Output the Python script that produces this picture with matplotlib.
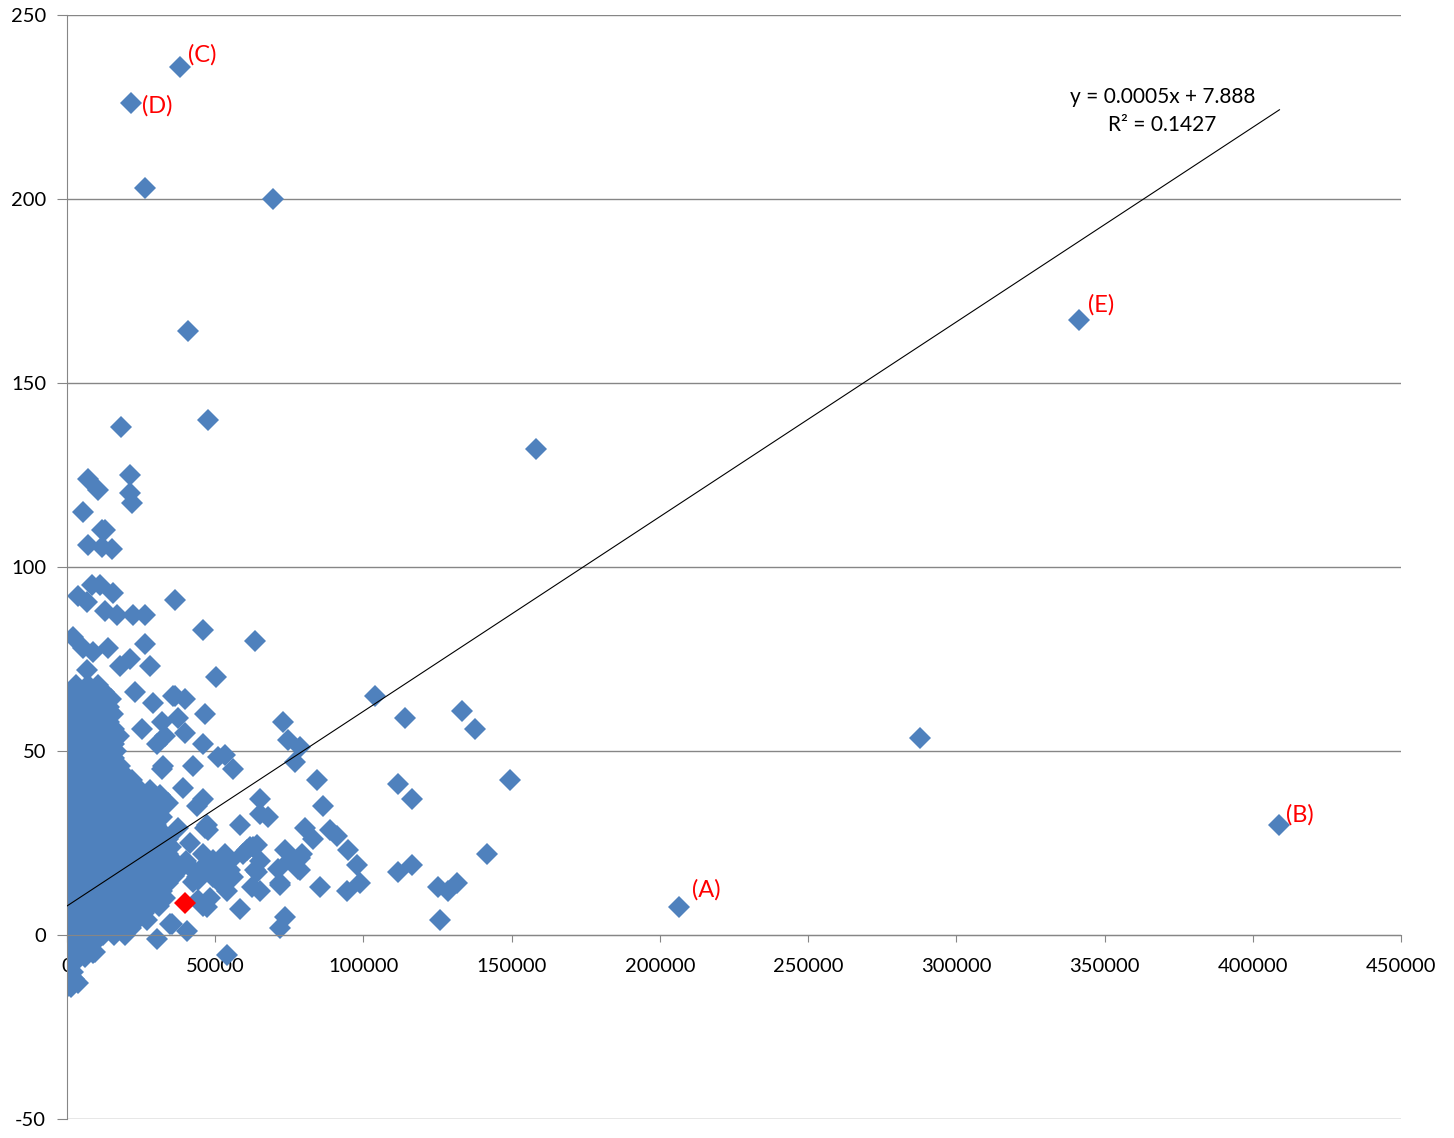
import matplotlib.pyplot as plt

plt.rcParams["font.family"] = ["Lato", "DejaVu Sans"]
plt.rcParams["axes.unicode_minus"] = False

# dense core of the cloud near the origin, read row by row: (y, x values)
core_rows = [
    (-14, [0, 1500]),
    (-12, [0, 2500]),
    (-10, [0, 2000]),
    (-8, [0, 2000]),
    (-6, [0, 3000, 6000]),
    (-4, [0, 4000, 8000]),
    (-2, [0, 2000, 6000, 9500]),
    (0, [0, 4000, 8000, 12000, 16000, 19500]),
    (2, [0, 2000, 6000, 10000, 14000, 18000, 21500]),
    (4, [0, 4000, 8000, 12000, 16000, 20000, 23500]),
    (6, [0, 2000, 6000, 10000, 14000, 18000, 22000, 26000]),
    (8, [0, 4000, 8000, 12000, 16000, 20000, 24000, 28000, 31000]),
    (10, [0, 2000, 6000, 10000, 14000, 18000, 22000, 26000, 30000, 33000]),
    (12, [0, 4000, 8000, 12000, 16000, 20000, 24000, 28000, 32000]),
    (14, [0, 2000, 6000, 10000, 14000, 18000, 22000, 26000, 30000, 34000]),
    (16, [0, 4000, 8000, 12000, 16000, 20000, 24000, 28000, 32000, 36000]),
    (18, [0, 2000, 6000, 10000, 14000, 18000, 22000, 26000, 30000, 34000, 38000]),
    (20, [0, 4000, 8000, 12000, 16000, 20000, 24000, 28000, 32000, 36000, 40000]),
    (22, [0, 2000, 6000, 10000, 14000, 18000, 22000, 26000, 30000, 34000]),
    (24, [0, 4000, 8000, 12000, 16000, 20000, 24000, 28000, 32000, 35000]),
    (26, [0, 2000, 6000, 10000, 14000, 18000, 22000, 26000, 30000, 34000]),
    (28, [0, 4000, 8000, 12000, 16000, 20000, 24000, 28000, 32000]),
    (30, [0, 2000, 6000, 10000, 14000, 18000, 22000, 26000, 30000]),
    (32, [0, 4000, 8000, 12000, 16000, 20000, 24000, 28000, 32000]),
    (34, [0, 2000, 6000, 10000, 14000, 18000, 22000, 26000, 30000]),
    (36, [0, 4000, 8000, 12000, 16000, 20000, 24000, 28000]),
    (38, [0, 2000, 6000, 10000, 14000, 18000, 22000, 26000]),
    (40, [0, 4000, 8000, 12000, 16000, 20000, 24000]),
    (42, [0, 2000, 6000, 10000, 14000, 18000, 22000]),
    (44, [0, 4000, 8000, 12000, 16000, 19000]),
    (46, [0, 2000, 6000, 10000, 14000, 18000]),
    (48, [0, 4000, 8000, 12000, 16000]),
    (50, [0, 2000, 6000, 10000, 14000, 16500]),
    (52, [0, 4000, 8000, 12000, 16000]),
    (54, [0, 2000, 6000, 10000, 14000, 17500]),
    (56, [0, 4000, 8000, 12000, 16000]),
    (58, [0, 2000, 6000, 10000, 14000]),
    (60, [0, 4000, 8000, 12000, 15500]),
    (62, [0, 2000, 6000, 10000, 14000]),
    (64, [0, 4000, 8000, 12000, 15000]),
    (66, [1500, 5000, 9000, 12500]),
    (68, [3000, 7000, 10500]),
]

# scattered points outside the core
pts_x = [
    38000, 21600, 26300, 69500, 40800, 47600, 18200, 7100, 10500, 21300,
    21300, 21900, 5400, 11800, 12800, 7100, 11800, 15200, 8400, 11100,
    3700, 6700, 15500, 36400, 12800, 16900, 22300, 26300, 45900, 63400,
    2000, 5400, 8800, 13800, 26300, 21300, 28000, 17900, 6700, 50300,
    104000, 114000, 133300, 137700, 149500, 111700, 116400, 141700, 125200, 128500,
    131600, 125900, 111700, 116400, 94800, 97800, 98900, 94500, 85400, 84300,
    86400, 80300, 83000, 88700, 91100, 79300, 73600, 76300, 77900, 71200,
    71900, 73600, 71900, 72900, 74600, 78600, 76900, 65100, 65100, 67800,
    58400, 46600, 45900, 50900, 53300, 56000, 42500, 39800, 37500, 39800,
    35800, 32000, 29000, 33100, 32000, 39100, 45900, 43900, 47200, 47600,
    37500, 61700, 64100, 59400, 53300, 55000, 50600, 45900, 65100, 64100,
    62400, 65100, 58400, 54000, 53300, 48200, 44200, 42500, 40500, 34800,
    30400, 54000, 60600, 62800, 63400, 52300, 49300, 47200, 45900, 49300,
    55000, 56000, 51600, 75200, 78600, 78600, 71900, 46600, 22900, 36400,
    25300, 30400, 32400, 28000, 31400, 34100, 41500, 41500, 44200, 35400,
    27000, 8800, 3700, 45900, 48200, 52600, 43900, 37100, 47200, 9400,
    158200, 287800, 206500, 409000, 341500,
]
pts_y = [
    236, 226, 203, 200, 164, 140, 138, 124, 121, 125,
    120, 117.5, 115, 110, 110, 106, 105.5, 105, 95, 95,
    92, 90.5, 93, 91, 88, 87, 87, 87, 83, 80,
    81, 78, 77, 78, 79, 75, 73, 73, 72, 70,
    65, 59, 61, 56, 42, 41, 37, 22, 13, 12,
    14, 4, 17, 19, 23, 19, 14, 12, 13, 42,
    35, 29, 26, 28.5, 27, 22, 23, 20, 18, 18,
    14, 5, 2, 58, 53, 51, 47, 37, 33, 32,
    30, 60, 52, 48.5, 49, 45, 46, 55, 59, 64,
    65, 58, 63, 54, 45, 40, 37, 35, 30, 28.5,
    29, 24, 24.5, 22, 22, 20, 19.5, 22, 20, 17,
    13, 12, 7, 12, 17, 10, 9.5, 14.5, 1, 3,
    -1, -5.5, 23, 24, 17.7, 19.6, 20.4, 19.6, 16.8, 15.8,
    17.7, 15.8, 14, 20.4, 17.7, 21, 13.6, 29, 66, 65,
    56, 52, 46, 39.4, 38, 36, 25, 18.5, 15, 3,
    4, -5, -13, 8, 17, 17.7, 15.8, 17.7, 7.6, -4.6,
    132, 53.5, 7.6, 30, 167,
]

# highlighted point
red_x = [39800]
red_y = [8.7]

# labelled points
label_text = ["(A)", "(B)", "(C)", "(D)", "(E)"]
label_x = [206500, 409000, 38000, 21600, 341500]
label_y = [7.6, 30, 236, 226, 167]

# linear trend line as shown in the chart
trend_slope = 0.000529
trend_intercept = 7.888
trend_eq = "y = 0.0005x + 7.888\nR² = 0.1427"

all_x = [x for y, xs in core_rows for x in xs] + pts_x
all_y = [y for y, xs in core_rows for x in xs] + pts_y

fig = plt.figure(figsize=(14.54, 11.38), dpi=100)
ax = fig.add_axes([67 / 1454, 1 - 1119 / 1138, (1401 - 67) / 1454, (1119 - 15) / 1138])

blue = "#4F81BD"
grey = "#868686"

ax.plot(all_x, all_y, "D", color=blue, markersize=11, markeredgewidth=0, zorder=2)
ax.plot(red_x, red_y, "D", color="red", markersize=11, markeredgewidth=0, zorder=3)

tx = [0, max(all_x)]
ty = [trend_intercept + trend_slope * v for v in tx]
ax.plot(tx, ty, color="black", lw=0.8, zorder=4)

ax.text(369500, 223.8, trend_eq, ha="center", va="center", fontsize=15, linespacing=1.5)

offsets = {"(A)": (13, 17), "(B)": (7, 10), "(C)": (8, 12), "(D)": (11, -3), "(E)": (9, 16)}
for t, x, y in zip(label_text, label_x, label_y):
    ax.annotate(t, (x, y), xytext=offsets[t], textcoords="offset pixels",
                ha="left", va="center", color="red", fontsize=17)

ax.set_xlim(0, 450000)
ax.set_ylim(-50, 250)
ax.set_xticks(range(0, 450001, 50000))
ax.set_yticks(range(-50, 251, 50))
ax.yaxis.grid(True, color=grey, lw=1)
ax.set_axisbelow(True)

ax.spines["top"].set_visible(False)
ax.spines["right"].set_visible(False)
ax.spines["left"].set_color(grey)
ax.spines["bottom"].set_color(grey)
ax.spines["bottom"].set_position(("data", 0))

ax.tick_params(axis="x", direction="out", length=5, color=grey, labelsize=14.5, pad=11.5)
ax.tick_params(axis="y", direction="out", length=7, color=grey, labelsize=14.5, pad=8)

fig.savefig("out.png", dpi=100)
